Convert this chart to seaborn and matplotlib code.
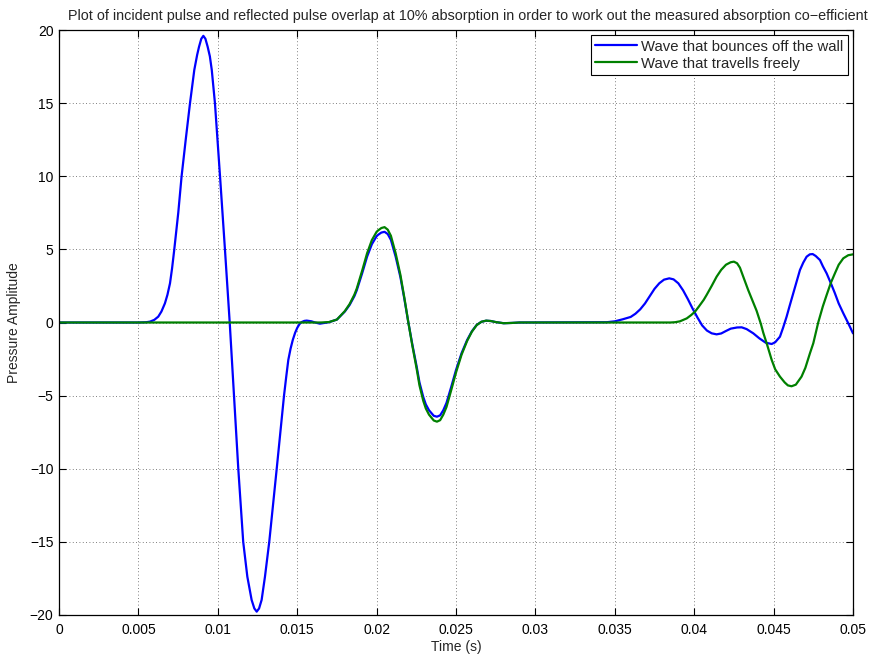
import matplotlib
matplotlib.use("Agg")
import matplotlib.pyplot as plt
import seaborn as sns
import pandas as pd

# ---- data ----
series_names = ["Wave that bounces off the wall", "Wave that travells freely"]
series_colors = ["#0000ff", "#008000"]

t_blue = [0.0, 0.0050, 0.0055, 0.00573, 0.00600, 0.00625, 0.00645, 0.00667, 0.00683, 0.00699,
          0.00712, 0.00726, 0.00751,
          0.00772, 0.00798, 0.00825, 0.00852, 0.00870, 0.00882, 0.00896, 0.00909, 0.00922, 0.00936,
          0.00950, 0.00962, 0.00982, 0.01014, 0.01045, 0.01075, 0.01102, 0.01129, 0.01160, 0.01186,
          0.01213, 0.01230, 0.01245, 0.01260, 0.01276, 0.01297, 0.01324, 0.01371, 0.01417,
          0.01431, 0.01444, 0.01458, 0.01472, 0.01487, 0.01501, 0.01515, 0.01528, 0.01545,
          0.01560, 0.01590, 0.01612, 0.01643, 0.0170,
          0.0175, 0.0180, 0.0183, 0.0186, 0.01875, 0.0191, 0.0194, 0.0197, 0.0200, 0.0201,
          0.0203, 0.0205, 0.0207, 0.0209, 0.0212, 0.0215, 0.02175, 0.0220, 0.02225, 0.02252,
          0.0227, 0.02294, 0.0231, 0.0233, 0.0236, 0.0238, 0.0240, 0.0242, 0.0244, 0.0247,
          0.0250, 0.02535, 0.0257, 0.0260, 0.0263, 0.0266, 0.0269, 0.0272, 0.0275, 0.0280,
          0.0285, 0.0290, 0.0345, 0.0350, 0.0355, 0.0360, 0.0363, 0.0366, 0.0369, 0.0372,
          0.0375, 0.0378, 0.0381, 0.03843, 0.0387, 0.0390, 0.0393, 0.0396, 0.0399, 0.0402,
          0.0405, 0.0408, 0.0411, 0.04141, 0.0417, 0.0420, 0.0423, 0.0427, 0.04299, 0.0433,
          0.04372, 0.0441, 0.0445, 0.04488, 0.0451, 0.0454, 0.0456, 0.04582, 0.0460, 0.04624,
          0.04645, 0.04666, 0.04687, 0.04708, 0.04728, 0.04746, 0.04765, 0.04792, 0.0481,
          0.04834, 0.0486, 0.04886, 0.0491, 0.04939, 0.0497, 0.0500]
v_blue = [0, 0, 0.02, 0.06, 0.18, 0.4, 0.75, 1.31, 1.9, 2.68,
          3.7, 5.0, 7.5,
          10, 12.5, 15, 17.27, 18.3, 18.86, 19.4, 19.6, 19.4, 18.86,
          18.2, 17.27, 15, 10, 5, 0, -5, -10, -15, -17.38,
          -18.97, -19.55, -19.77, -19.55, -18.97, -17.38, -15, -10, -5,
          -3.7, -2.56, -1.8, -1.2, -0.7, -0.35, -0.1, 0.03, 0.11,
          0.13, 0.08, 0, -0.08, 0.02,
          0.2, 0.75, 1.2, 1.8, 2.2, 3.4, 4.5, 5.35, 5.9, 6.0,
          6.15, 6.2, 6.05, 5.65, 4.5, 3.1, 1.6, 0, -1.5, -3.0,
          -4.1, -5.1, -5.6, -6.0, -6.38, -6.44, -6.35, -6.0, -5.5, -4.4,
          -3.25, -2.1, -1.2, -0.6, -0.17, 0.05, 0.12, 0.1, 0.03, -0.05,
          -0.03, 0, 0.02, 0.08, 0.22, 0.38, 0.6, 0.9, 1.3, 1.8,
          2.3, 2.68, 2.93, 3.02, 2.95, 2.68, 2.2, 1.6, 0.95, 0.35,
          -0.2, -0.55, -0.74, -0.81, -0.75, -0.58, -0.42, -0.34, -0.33, -0.45,
          -0.74, -1.08, -1.38, -1.47, -1.35, -0.97, -0.35, 0.4, 1.1, 2.0,
          2.8, 3.59, 4.1, 4.5, 4.66, 4.68, 4.55, 4.27, 3.85,
          3.36, 2.7, 2.0, 1.3, 0.63, -0.05, -0.74]

t_green = [0.0, 0.0165, 0.0170, 0.0175, 0.0180, 0.0183, 0.0186, 0.01875, 0.0191, 0.0194,
           0.0197, 0.0200, 0.0201, 0.0203, 0.0205, 0.0207, 0.0209, 0.0212, 0.0215, 0.02175,
           0.0220, 0.02225, 0.02252, 0.0227, 0.02294, 0.0231, 0.0233, 0.0236, 0.0238, 0.0240,
           0.0242, 0.0244, 0.0247, 0.0250, 0.02535, 0.0257, 0.0260, 0.0263, 0.0266, 0.0269,
           0.0272, 0.0275, 0.0280, 0.0285, 0.0290, 0.0385, 0.0388, 0.0391, 0.03953, 0.0398,
           0.04005, 0.0403, 0.0406, 0.04078, 0.0411, 0.04141, 0.0417, 0.0420, 0.0423, 0.0425,
           0.0427, 0.04288, 0.0431, 0.0434, 0.04365, 0.04393, 0.0442, 0.04435, 0.0446, 0.04488,
           0.0451, 0.0454, 0.0457, 0.0459, 0.04613, 0.0464, 0.04676, 0.0470, 0.04729, 0.0475,
           0.04781, 0.0481, 0.04834, 0.0486, 0.04886, 0.0491, 0.04939, 0.0497, 0.0500]
v_green = [0, 0, 0.03, 0.2, 0.78, 1.26, 1.9, 2.32, 3.58, 4.73,
           5.63, 6.2, 6.3, 6.46, 6.52, 6.35, 5.93, 4.73, 3.25, 1.68,
           0, -1.58, -3.15, -4.3, -5.36, -5.88, -6.3, -6.7, -6.78, -6.68,
           -6.3, -5.78, -4.62, -3.42, -2.2, -1.26, -0.63, -0.18, 0.05, 0.13,
           0.1, 0.03, -0.05, -0.03, 0, 0, 0.02, 0.08, 0.28, 0.5,
           0.74, 1.1, 1.55, 1.88, 2.5, 3.13, 3.6, 3.95, 4.12, 4.16,
           4.05, 3.75, 3.1, 2.22, 1.55, 0.8, -0.1, -0.7, -1.55, -2.56,
           -3.2, -3.7, -4.1, -4.3, -4.36, -4.25, -3.7, -3.1, -2.1, -1.42,
           0, 1.1, 1.88, 2.7, 3.36, 3.95, 4.39, 4.6, 4.66]

x_ticks = [0, 0.005, 0.01, 0.015, 0.02, 0.025, 0.03, 0.035, 0.04, 0.045, 0.05]
x_tick_labels = ["0", "0.005", "0.01", "0.015", "0.02", "0.025", "0.03", "0.035",
                 "0.04", "0.045", "0.05"]
y_ticks = [-20, -15, -10, -5, 0, 5, 10, 15, 20]
y_tick_labels = ["\u221220", "\u221215", "\u221210", "\u22125", "0", "5", "10", "15", "20"]

title_text = ("Plot of incident pulse and reflected pulse overlap at 10% absorption "
              "in order to work out the measured absorption co\u2212efficient")
x_label = "Time (s)"
y_label = "Pressure Amplitude"

# ---- build table ----
df = pd.concat([
    pd.DataFrame({"t": t_blue, "v": v_blue, "series": series_names[0]}),
    pd.DataFrame({"t": t_green, "v": v_green, "series": series_names[1]}),
], ignore_index=True)

sns.set_style("white")
plt.rcParams["font.family"] = ["Liberation Sans", "DejaVu Sans"]

fig = plt.figure(figsize=(8.72, 6.55), dpi=100)
ax = fig.add_axes([59 / 872, 40 / 655, (853 - 59) / 872, (615 - 30) / 655])

sns.lineplot(data=df, x="t", y="v", hue="series", hue_order=series_names,
             palette=series_colors, linewidth=1.6, ax=ax, sort=False,
             estimator=None, legend=True)

ax.set_xlim(0, 0.05)
ax.set_ylim(-20, 20)
ax.set_xticks(x_ticks)
ax.set_xticklabels(x_tick_labels)
ax.set_yticks(y_ticks)
ax.set_yticklabels(y_tick_labels)
ax.tick_params(direction="in", length=5, width=0.8, labelsize=10, colors="black",
               top=True, right=True, bottom=True, left=True)
ax.tick_params(axis="x", pad=6)
ax.tick_params(axis="y", pad=4)
ax.grid(True, linestyle=(0, (1, 3)), color="#555555", linewidth=0.6)
for s in ax.spines.values():
    s.set_visible(True)
    s.set_color("black")
    s.set_linewidth(0.9)

ax.set_xlabel(x_label, fontsize=10, labelpad=2)
ax.set_ylabel(y_label, fontsize=10, labelpad=6)
ax.set_title(title_text, fontsize=10.4, pad=7, x=0.515)

leg = ax.legend(loc="upper right", fontsize=10.7, frameon=True, fancybox=False,
                framealpha=1, edgecolor="black", borderaxespad=0.35,
                handlelength=2.8, handletextpad=0.3, borderpad=0.3, labelspacing=0.2)
leg.get_frame().set_linewidth(0.8)
for h in leg.get_lines():
    h.set_linewidth(1.6)

fig.savefig("out.png", dpi=100)
